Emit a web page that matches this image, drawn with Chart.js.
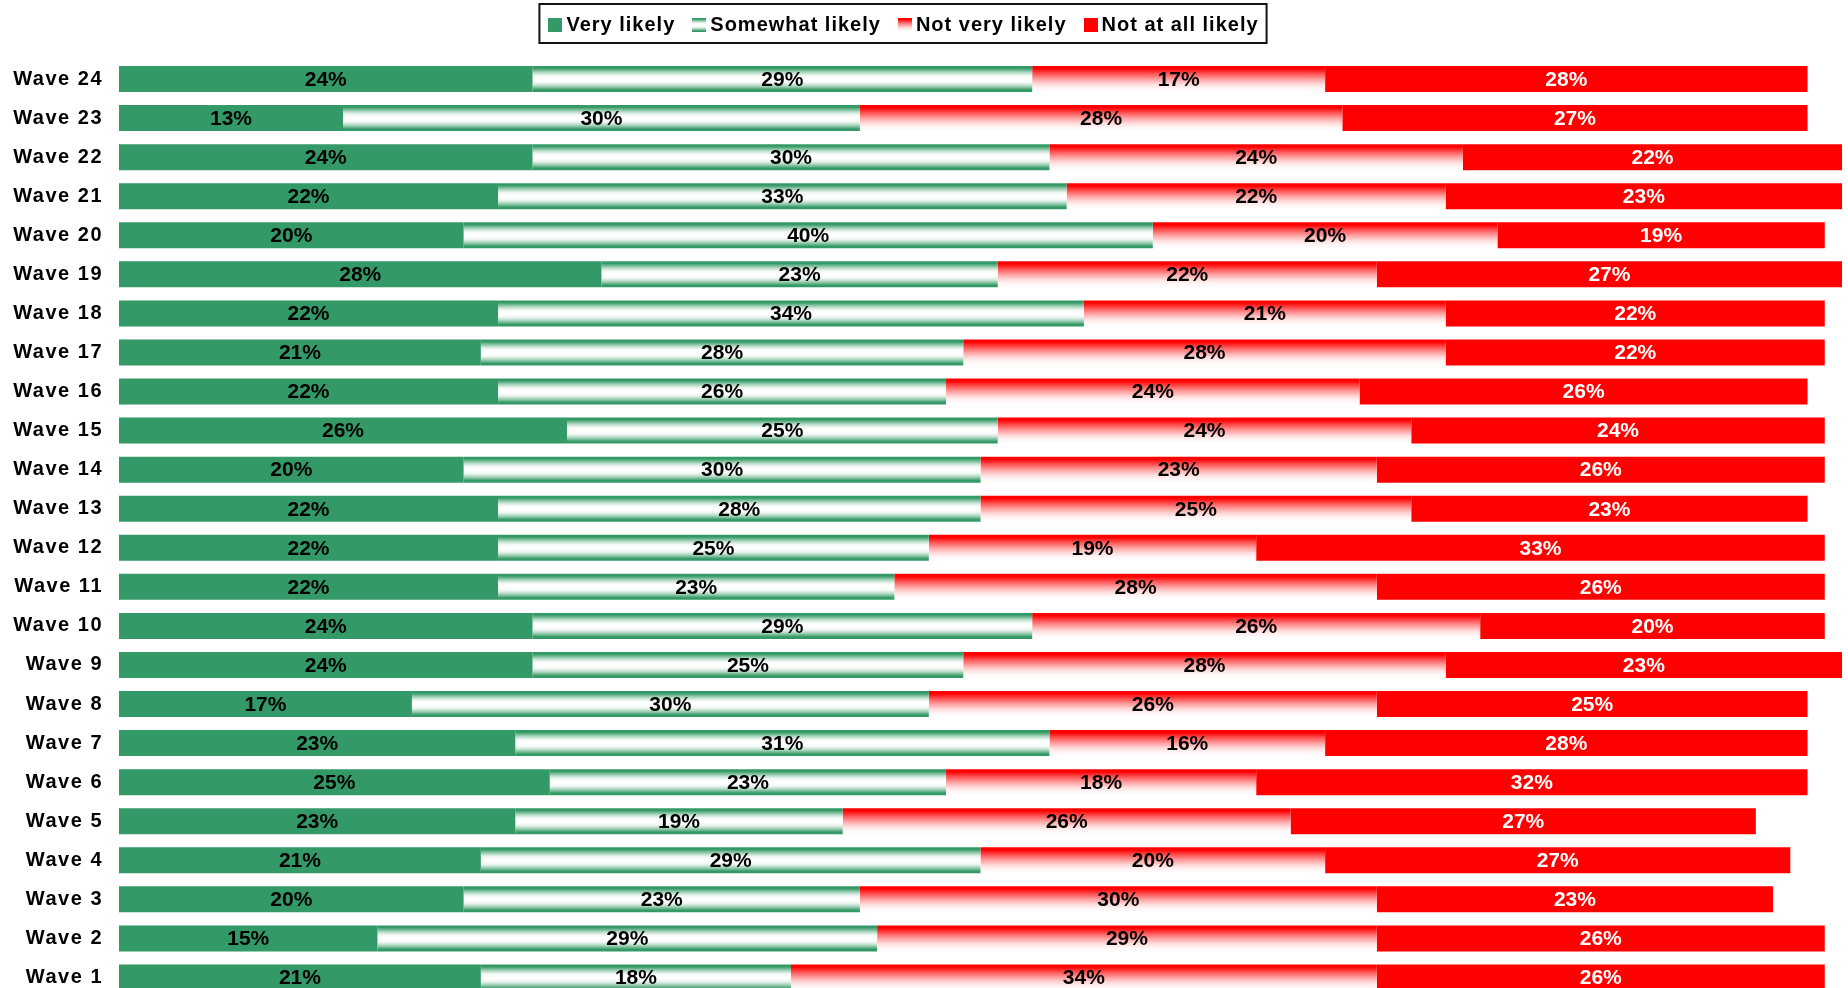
<!DOCTYPE html>
<html>
<head>
<meta charset="utf-8">
<script src="https://cdn.jsdelivr.net/npm/chart.js@4"></script>
<style>
  html, body { margin: 0; padding: 0; background: #fff; overflow: hidden; }
  #wrap { width: 1848px; height: 997px; }
</style>
</head>
<body>
<div id="wrap"><canvas id="c" width="1848" height="997"></canvas></div>
<script>
// ---------- data ----------
const waves = ['Wave 24','Wave 23','Wave 22','Wave 21','Wave 20','Wave 19','Wave 18','Wave 17',
  'Wave 16','Wave 15','Wave 14','Wave 13','Wave 12','Wave 11','Wave 10','Wave 9','Wave 8',
  'Wave 7','Wave 6','Wave 5','Wave 4','Wave 3','Wave 2','Wave 1'];
const seriesNames = ['Very likely', 'Somewhat likely', 'Not very likely', 'Not at all likely'];
const veryLikely     = [24,13,24,22,20,28,22,21,22,26,20,22,22,22,24,24,17,23,25,23,21,20,15,21];
const somewhatLikely = [29,30,30,33,40,23,34,28,26,25,30,28,25,23,29,25,30,31,23,19,29,23,29,18];
const notVeryLikely  = [17,28,24,22,20,22,21,28,24,24,23,25,19,28,26,28,26,16,18,26,20,30,29,34];
const notAtAllLikely = [28,27,22,23,19,27,22,22,26,24,26,23,33,26,20,23,25,28,32,27,27,23,26,26];

// ---------- styles ----------
const GREEN = '#339966';
const RED = '#ff0000';
const CAT_PCT = 0.666;
const AXIS_SPACING = '1.5px';
const LEGEND_SPACING = '1px';
const LABEL_FONT = '"Liberation Sans", Arial, sans-serif';
const VALUE_FONT = 'bold 21px "Liberation Sans Narrow", "Arial Narrow", "Liberation Sans", Arial, sans-serif';
const valueColors = ['#000', '#000', '#000', '#fff'];

const somewhatStops = [[0, GREEN],[0.08, GREEN],[0.16,'#6fb891'],[0.26,'#b9dcc9'],[0.36,'#eef6f1'],
  [0.45,'#ffffff'],[0.55,'#ffffff'],[0.65,'#eef6f1'],[0.75,'#b9dcc9'],[0.85,'#6fb891'],[0.92, GREEN],[1, GREEN]];
const notVeryStops = [[0, RED],[0.1, RED],[0.3,'#ff5555'],[0.5,'#ff9f9f'],[0.7,'#ffdcdc'],[0.85,'#fff5f5'],[1,'#ffffff']];

function band(ctx) {
  const y = ctx.chart.scales.y;
  if (!y || !isFinite(y.height) || y.height <= 0) return null;
  const c = y.getPixelForValue(ctx.dataIndex);
  const h = (y.height / waves.length) * CAT_PCT;
  if (!isFinite(c)) return null;
  return [c - h / 2, c + h / 2];
}
function gradFill(stops, fallback) {
  return function (ctx) {
    if (ctx.type !== 'data') return fallback;
    const b = band(ctx);
    if (!b) return fallback;
    const g = ctx.chart.ctx.createLinearGradient(0, b[0], 0, b[1]);
    stops.forEach(s => g.addColorStop(s[0], s[1]));
    return g;
  };
}
function markerCanvas(fill) {
  const cv = document.createElement('canvas');
  cv.width = 14; cv.height = 14;
  const x = cv.getContext('2d');
  if (Array.isArray(fill)) {
    const g = x.createLinearGradient(0, 0, 0, 14);
    fill.forEach(s => g.addColorStop(s[0], s[1]));
    x.fillStyle = g;
  } else x.fillStyle = fill;
  x.fillRect(0, 0, 14, 14);
  return cv;
}
const markers = [markerCanvas(GREEN), markerCanvas(somewhatStops), markerCanvas(notVeryStops), markerCanvas(RED)];

// ---------- plugins ----------
function withSpacing(ctx, sp, fn) {
  const prev = ctx.letterSpacing;
  ctx.letterSpacing = sp;
  try { return fn(); } finally { ctx.letterSpacing = prev; }
}
const spacingPlugin = {
  id: 'spacing',
  beforeUpdate(chart) { chart.ctx.letterSpacing = AXIS_SPACING; },
  beforeLayout(chart) {
    chart.ctx.letterSpacing = AXIS_SPACING;
    const lg = chart.legend;
    if (lg && !lg._patched) {
      const f = lg.fit, d = lg.draw;
      lg.fit = function () { withSpacing(chart.ctx, LEGEND_SPACING, () => f.call(this)); this.height = 59.5; };
      lg.draw = function (...a) { withSpacing(chart.ctx, LEGEND_SPACING, () => d.apply(this, a)); };
      lg._patched = true;
    }
  },
  afterLayout(chart) {
    const lg = chart.legend;
    const shift = 906.5 - (lg.left + lg.right) / 2;
    lg.left += shift; lg.right += shift;
    lg.top -= 8; lg.bottom -= 8;
  },
  beforeDraw(chart) { chart.ctx.letterSpacing = AXIS_SPACING; },
  beforeDatasetsDraw(chart) { chart.ctx.letterSpacing = '0px'; },
  afterDraw(chart) {
    const lg = chart.legend;
    const hb = lg.legendHitBoxes;
    if (!hb || !hb.length) return;
    let l = Infinity, r = -Infinity, cy = hb[0].top + hb[0].height / 2;
    hb.forEach(h => { l = Math.min(l, h.left); r = Math.max(r, h.left + h.width); });
    const ctx = chart.ctx;
    ctx.save();
    ctx.strokeStyle = '#111';
    ctx.lineWidth = 2;
    ctx.strokeRect(l - 15, cy - 21, (r + 8) - (l - 15), 39);
    ctx.restore();
  }
};

const valueLabels = {
  id: 'valueLabels',
  afterDatasetsDraw(chart) {
    const ctx = chart.ctx;
    ctx.save();
    ctx.letterSpacing = '0px';
    ctx.font = VALUE_FONT;
    ctx.textAlign = 'center';
    ctx.textBaseline = 'middle';
    chart.data.datasets.forEach((ds, di) => {
      const meta = chart.getDatasetMeta(di);
      meta.data.forEach((bar, i) => {
        ctx.fillStyle = valueColors[di];
        ctx.fillText(ds.data[i] + '%', (bar.x + bar.base) / 2, bar.y + 1);
      });
    });
    ctx.restore();
  }
};

// ---------- chart ----------
new Chart(document.getElementById('c'), {
  type: 'bar',
  data: {
    labels: waves,
    datasets: [
      { label: seriesNames[0], data: veryLikely, backgroundColor: GREEN },
      { label: seriesNames[1], data: somewhatLikely, backgroundColor: gradFill(somewhatStops, '#9fcfb5') },
      { label: seriesNames[2], data: notVeryLikely, backgroundColor: gradFill(notVeryStops, '#ff9f9f') },
      { label: seriesNames[3], data: notAtAllLikely, backgroundColor: RED }
    ]
  },
  options: {
    indexAxis: 'y',
    responsive: false,
    animation: false,
    devicePixelRatio: 1,
    datasets: { bar: { categoryPercentage: CAT_PCT, barPercentage: 1, borderWidth: 0, borderSkipped: false } },
    layout: { padding: { left: 0, right: 6, top: 0, bottom: 0 } },
    scales: {
      x: { stacked: true, min: 0, max: 100, display: false },
      y: {
        stacked: true,
        grid: { display: false, drawTicks: false },
        border: { display: false },
        ticks: { autoSkip: false, color: '#000', padding: 16, font: { family: LABEL_FONT, size: 20, weight: 'bold' } },
        afterFit(s) { s.width = 119; s.paddingTop = 0; s.paddingBottom = 0; }
      }
    },
    plugins: {
      tooltip: { enabled: false },
      legend: {
        position: 'top',
        labels: {
          color: '#000',
          font: { family: LABEL_FONT, size: 20, weight: 'bold' },
          usePointStyle: true,
          pointStyleWidth: 2,
          boxHeight: 14,
          padding: 23,
          generateLabels() {
            return seriesNames.map((n, i) => ({
              text: n, pointStyle: markers[i], fillStyle: '#000', strokeStyle: 'transparent',
              lineWidth: 0, hidden: false, datasetIndex: i, fontColor: '#000'
            }));
          }
        }
      }
    }
  },
  plugins: [spacingPlugin, valueLabels]
});
</script>
</body>
</html>
